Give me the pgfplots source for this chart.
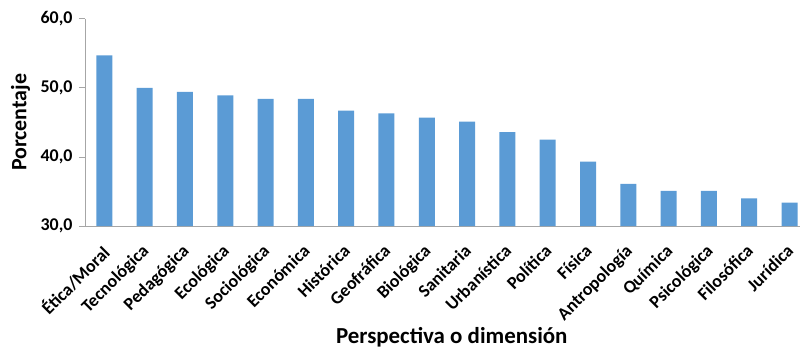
\documentclass[border=0pt]{standalone}
\usepackage{pgfplots}
\pgfplotsset{compat=1.18}
\usepackage{fontspec}
\setmainfont{Carlito}
\definecolor{barblue}{HTML}{5B9BD5}
\definecolor{axisgray}{HTML}{A6A6A6}
\begin{document}
\begin{tikzpicture}
\useasboundingbox (-85bp,-124bp) rectangle (715bp,226bp);
\begin{axis}[
  scale only axis,
  width=715bp, height=207.3bp,
  at={(0,0)}, anchor=south west,
  ymin=30, ymax=60,
  ytick={30,40,50,60},
  xmin=-0.48, xmax=17.26,
  xtick=data,
  xticklabels={Ética/Moral,Tecnológica,Pedagógica,Ecológica,Sociológica,Económica,Histórica,Geofráfica,Biológica,Sanitaria,Urbanística,Política,Física,Antropología,Química,Psicológica,Filosófica,Jurídica},
  axis x line*=bottom,
  axis y line*=left,
  axis line style={axisgray, line width=0.8pt, -},
  x axis line style={-},
  y axis line style={-},
  major tick length=6bp,
  ytick style={axisgray, line width=0.8pt},
  ytick pos=left,
  ytick align=outside,
  xtick style={draw=none},
  /pgf/number format/.cd, fixed, fixed zerofill, precision=1, use comma, assume math mode=true,
  /pgfplots/.cd,
  yticklabel style={font=\fontsize{18}{21}\selectfont\bfseries, xshift=-3bp},
  xticklabel style={font=\fontsize{18}{21}\selectfont\bfseries, xshift=-4bp, yshift=-17bp, rotate=45, anchor=north east, inner sep=0pt},
  ylabel={Porcentaje},
  xlabel={Perspectiva o dimensión},
  ylabel style={font=\fontsize{22}{26}\selectfont\bfseries, at={(axis description cs:-0.09,0.5)}, anchor=center, rotate=0},
  xlabel style={font=\fontsize{23}{27}\selectfont\bfseries, at={(axis description cs:0.513,-0.535)}, anchor=center},
  clip=false,
]
\addplot[ybar, bar width=16bp, fill=barblue, draw=none] coordinates {
  (0,54.7) (1,50.0) (2,49.4) (3,48.9) (4,48.4) (5,48.4) (6,46.7) (7,46.3)
  (8,45.7) (9,45.1) (10,43.6) (11,42.5) (12,39.3) (13,36.1) (14,35.1)
  (15,35.1) (16,34.0) (17,33.4)
};
\end{axis}
\end{tikzpicture}
\end{document}
